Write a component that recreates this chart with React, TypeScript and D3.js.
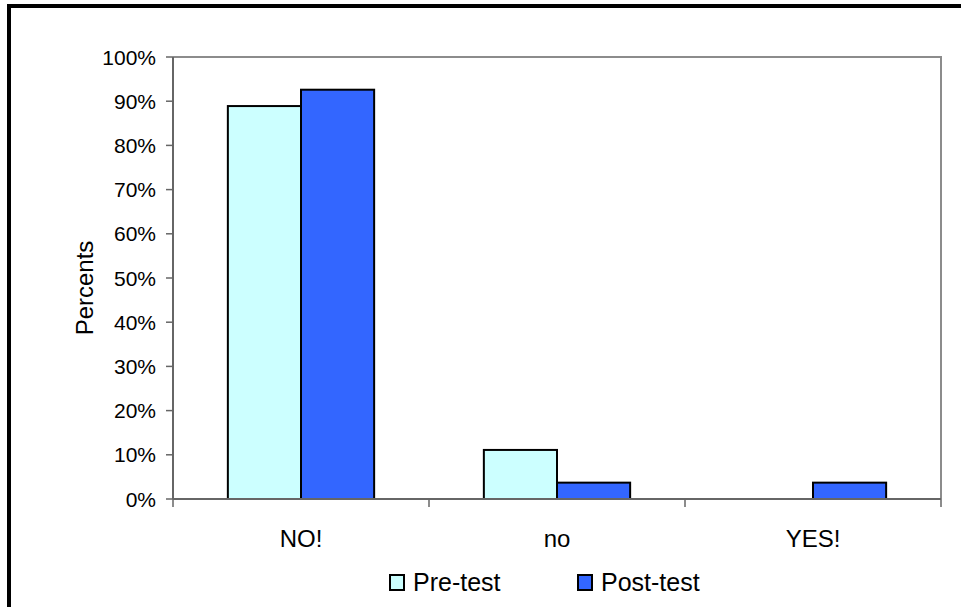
import React from "react";
import * as d3 from "d3";

// Survey responses, share of respondents per answer
const categories = ["NO!", "no", "YES!"];
const seriesNames = ["Pre-test", "Post-test"];
const preTest = [88.9, 11.1, 0];
const postTest = [92.6, 3.7, 3.7];
const yTicks = [0, 10, 20, 30, 40, 50, 60, 70, 80, 90, 100];

const seriesColors = ["#CCFFFF", "#3366FF"];
const FONT = "Liberation Sans, Arial, sans-serif";

export default function App() {
  const width = 961;
  const height = 607;
  const plot = { left: 173, right: 941, top: 57, bottom: 499 };

  const x = d3
    .scaleBand<string>()
    .domain(categories)
    .range([plot.left, plot.right])
    .paddingInner(0)
    .paddingOuter(0);

  const y = d3.scaleLinear().domain([0, 100]).range([plot.bottom, plot.top]);

  const band = x.bandwidth();
  const barW = band / 3.5;
  const inner = d3
    .scaleBand<string>()
    .domain(seriesNames)
    .range([band / 2 - barW, band / 2 + barW]);

  const series = [preTest, postTest];
  const boundaries = [...categories.map((c) => x(c) as number), plot.right];

  return (
    <svg
      width={width}
      height={height}
      style={{ position: "absolute", left: 0, top: 0, display: "block" }}
      fontFamily={FONT}
    >
      <rect x={0} y={0} width={width} height={height} fill="#fff" />
      {/* chart frame */}
      <rect x={9} y={6} width={1100} height={800} fill="none" stroke="#000" strokeWidth={4} />

      {/* plot area frame (top, right) */}
      <path
        d={`M${plot.left},${plot.top}H${plot.right}V${plot.bottom}`}
        fill="none"
        stroke="#8c8c8c"
        strokeWidth={2}
      />

      {/* bars */}
      {series.map((vals, si) =>
        vals.map((v, ci) =>
          v > 0 ? (
            <rect
              key={`${si}-${ci}`}
              x={(x(categories[ci]) as number) + (inner(seriesNames[si]) as number)}
              y={y(v)}
              width={inner.bandwidth()}
              height={y(0) - y(v)}
              fill={seriesColors[si]}
              stroke="#000"
              strokeWidth={2}
            />
          ) : null
        )
      )}

      {/* y axis */}
      <line x1={plot.left} x2={plot.left} y1={plot.top} y2={plot.bottom} stroke="#666" strokeWidth={2} />
      {yTicks.map((t) => (
        <g key={t}>
          <line x1={plot.left - 7} x2={plot.left} y1={y(t)} y2={y(t)} stroke="#666" strokeWidth={1.5} />
          <text
            x={plot.left - 17}
            y={y(t)}
            dy="0.36em"
            textAnchor="end"
            fontSize={21}
            fill="#000"
          >
            {`${t}%`}
          </text>
        </g>
      ))}

      {/* x axis */}
      <line x1={plot.left} x2={plot.right} y1={plot.bottom} y2={plot.bottom} stroke="#666" strokeWidth={2} />
      {boundaries.map((b, i) => (
        <line key={i} x1={b} x2={b} y1={plot.bottom} y2={plot.bottom + 8} stroke="#666" strokeWidth={1.5} />
      ))}
      {categories.map((c) => (
        <text
          key={c}
          x={(x(c) as number) + band / 2}
          y={547}
          textAnchor="middle"
          fontSize={24}
          fill="#000"
        >
          {c}
        </text>
      ))}

      {/* y axis title */}
      <text
        transform={`translate(93,${(plot.top + plot.bottom) / 2 + 10}) rotate(-90)`}
        textAnchor="middle"
        fontSize={24}
        fill="#000"
      >
        Percents
      </text>

      {/* legend */}
      {seriesNames.map((s, i) => {
        const lx = i === 0 ? 390 : 578;
        return (
          <g key={s}>
            <rect x={lx} y={575} width={14} height={15} fill={seriesColors[i]} stroke="#000" strokeWidth={2} />
            <text x={lx + 23} y={591} fontSize={25} fill="#000">
              {s}
            </text>
          </g>
        );
      })}
    </svg>
  );
}
